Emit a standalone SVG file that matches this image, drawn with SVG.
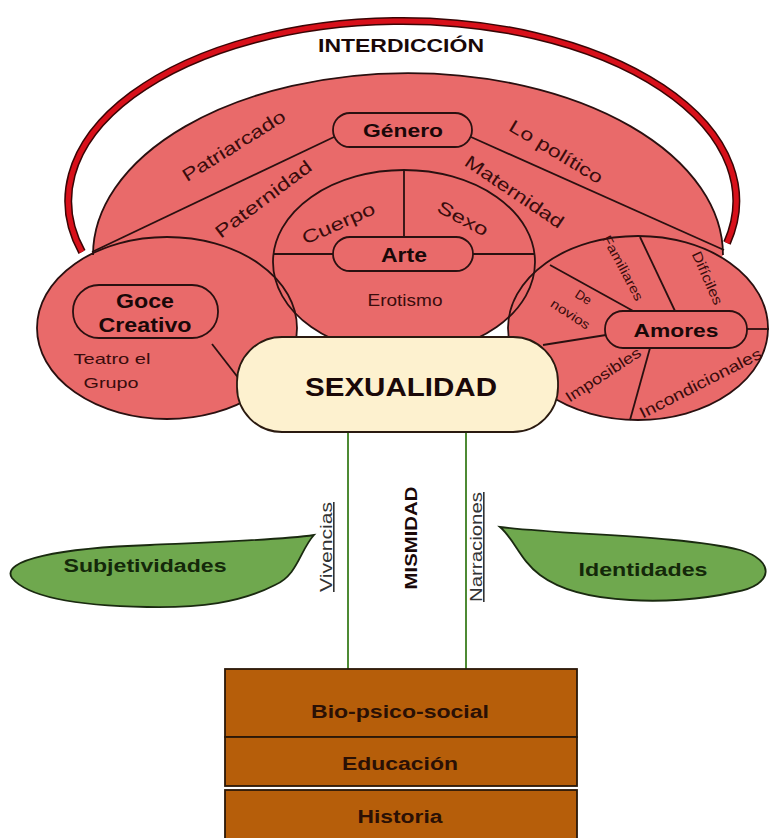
<svg xmlns="http://www.w3.org/2000/svg" width="769" height="838" viewBox="0 0 769 838">
<style>
.red{fill:#e96a6a}
.ol{fill:none;stroke:#2a1010;stroke-width:1.8}
.ln{stroke:#2a1010;stroke-width:1.8;fill:none}
.pill{fill:#e96a6a;stroke:#2a1010;stroke-width:1.8}
.b{font-family:"Liberation Sans",Arial,sans-serif;font-weight:bold;fill:#1a0808;text-anchor:middle}
.r{font-family:"Liberation Sans",Arial,sans-serif;fill:#3a0c0c;text-anchor:middle}
.g{stroke:#4e8a34;stroke-width:2}
.leaf{fill:#6fa84e;stroke:#1a2a10;stroke-width:1.8}
.brown{fill:#b65e0a;stroke:#2a1808;stroke-width:1.8}
.u{font-family:"Liberation Sans",Arial,sans-serif;fill:#333;text-anchor:middle;text-decoration:underline}
</style>
<rect width="769" height="838" fill="#fff"/>
<g id="interdiccion">
<path d="M 82 252 A 334 180 0 1 1 727 243" fill="none" stroke="#3a0505" stroke-width="8"/>
<path d="M 82 252 A 334 180 0 1 1 727 243" fill="none" stroke="#d8101a" stroke-width="5"/>
<text class="b" x="401" y="52" font-size="19" textLength="166" lengthAdjust="spacingAndGlyphs">INTERDICCIÓN</text>
</g>
<g id="genero-area">
<path class="red" d="M 93 255 A 315 182 0 0 1 723 255 L 700 300 L 120 300 Z"/>
</g>
<g id="connectors">
<line class="ln" x1="334" y1="137" x2="92" y2="252"/>
<line class="ln" x1="471" y1="137" x2="724" y2="250"/>
</g>
<g id="fills">
<ellipse class="red" cx="404" cy="262" rx="131" ry="92"/>
<ellipse class="red" cx="167" cy="328" rx="130" ry="91"/>
<ellipse class="red" cx="638" cy="328" rx="130" ry="92"/>
</g>
<g id="outlines">
<path class="ol" d="M 93 255 A 315 182 0 0 1 723 255"/>
<ellipse class="ol" cx="404" cy="262" rx="131" ry="92"/>
<ellipse class="ol" cx="167" cy="328" rx="130" ry="91"/>
<ellipse class="ol" cx="638" cy="328" rx="130" ry="92"/>
</g>
<g id="inner-lines">
<line class="ln" x1="404" y1="170" x2="404" y2="237"/>
<line class="ln" x1="273" y1="254" x2="333" y2="254"/>
<line class="ln" x1="473" y1="254" x2="535" y2="254"/>
<line class="ln" x1="212" y1="344" x2="243" y2="384"/>
<line class="ln" x1="747" y1="329" x2="769" y2="329"/>
<line class="ln" x1="675" y1="311" x2="640" y2="237"/>
<line class="ln" x1="635" y1="312" x2="550" y2="265"/>
<line class="ln" x1="606" y1="335" x2="543" y2="345"/>
<line class="ln" x1="650" y1="348" x2="630" y2="420"/>
</g>
<g id="genero">
<rect class="pill" x="333" y="113" width="139" height="34" rx="17"/>
<text class="b" x="403" y="137" font-size="19" textLength="80" lengthAdjust="spacingAndGlyphs">Género</text>
</g>
<g id="genero-labels">
<text class="r" font-size="18" transform="translate(237,151) rotate(-32)" textLength="118" lengthAdjust="spacingAndGlyphs">Patriarcado</text>
<text class="r" font-size="18" transform="translate(553,157) rotate(31)" textLength="106" lengthAdjust="spacingAndGlyphs">Lo político</text>
<text class="r" font-size="18" transform="translate(267,204) rotate(-37)" textLength="116" lengthAdjust="spacingAndGlyphs">Paternidad</text>
<text class="r" font-size="18" transform="translate(511,197) rotate(34)" textLength="115" lengthAdjust="spacingAndGlyphs">Maternidad</text>
</g>
<g id="arte">
<rect class="pill" x="333" y="237" width="140" height="34" rx="17"/>
<text class="b" x="404" y="262" font-size="20" textLength="46" lengthAdjust="spacingAndGlyphs">Arte</text>
<text class="r" font-size="18" transform="translate(341,229) rotate(-24)" textLength="78" lengthAdjust="spacingAndGlyphs">Cuerpo</text>
<text class="r" font-size="18" transform="translate(460,224) rotate(28)" textLength="55" lengthAdjust="spacingAndGlyphs">Sexo</text>
<text class="r" x="405" y="306" font-size="17" textLength="75" lengthAdjust="spacingAndGlyphs">Erotismo</text>
</g>
<g id="goce">
<rect class="pill" x="73" y="285" width="145" height="53" rx="26"/>
<text class="b" x="145" y="308" font-size="20" textLength="58" lengthAdjust="spacingAndGlyphs">Goce</text>
<text class="b" x="145" y="332" font-size="20" textLength="93" lengthAdjust="spacingAndGlyphs">Creativo</text>
<text class="r" x="112" y="364" font-size="15" textLength="77" lengthAdjust="spacingAndGlyphs">Teatro el</text>
<text class="r" x="111" y="388" font-size="15" textLength="55" lengthAdjust="spacingAndGlyphs">Grupo</text>
</g>
<g id="amores">
<rect class="pill" x="605" y="311" width="142" height="37" rx="18"/>
<text class="b" x="676" y="337" font-size="19" textLength="85" lengthAdjust="spacingAndGlyphs">Amores</text>
<text class="r" font-size="13" transform="translate(619,270) rotate(62)" textLength="72" lengthAdjust="spacingAndGlyphs">Familiares</text>
<text class="r" font-size="14" transform="translate(703,280) rotate(66)" textLength="57" lengthAdjust="spacingAndGlyphs">Difíciles</text>
<text class="r" font-size="13" transform="translate(581,301) rotate(33)">De</text>
<text class="r" font-size="13" transform="translate(568,318) rotate(33)" textLength="44" lengthAdjust="spacingAndGlyphs">novios</text>
<text class="r" font-size="15" transform="translate(606,379) rotate(-33)" textLength="87" lengthAdjust="spacingAndGlyphs">Imposibles</text>
<text class="r" font-size="16" transform="translate(703,388) rotate(-27)" textLength="135" lengthAdjust="spacingAndGlyphs">Incondicionales</text>
</g>
<g id="stems">
<line class="g" x1="348" y1="432" x2="348" y2="680"/>
<line class="g" x1="466" y1="432" x2="466" y2="680"/>
</g>
<g id="sexualidad">
<rect x="237" y="337" width="321" height="95" rx="45" fill="#fdf1cf" stroke="#2a1a10" stroke-width="1.8"/>
<text class="b" x="401" y="396" font-size="26" textLength="192" lengthAdjust="spacingAndGlyphs">SEXUALIDAD</text>
</g>
<g id="mismidad">
<text class="u" font-size="16" transform="translate(332,547) rotate(-90)" textLength="90" lengthAdjust="spacingAndGlyphs">Vivencias</text>
<text class="b" font-size="16" transform="translate(417,538) rotate(-90)" textLength="103" lengthAdjust="spacingAndGlyphs">MISMIDAD</text>
<text class="u" font-size="16" transform="translate(482,547) rotate(-90)" textLength="110" lengthAdjust="spacingAndGlyphs">Narraciones</text>
</g>
<g id="subjetividades">
<path class="leaf" d="M 314 535 C 300 550, 298 575, 275 585 C 240 603, 200 608, 147 607 C 90 606, 30 600, 12 578 C 0 560, 60 548, 150 545 C 220 542, 280 540, 314 535 Z"/>
<text class="b" x="145" y="572" font-size="18" textLength="163" lengthAdjust="spacingAndGlyphs" style="fill:#14280a">Subjetividades</text>
</g>
<g id="identidades">
<path class="leaf" d="M 500 527 C 560 535, 680 535, 740 550 C 775 560, 775 585, 735 592 C 700 600, 660 602, 630 600 C 590 598, 560 590, 540 575 C 520 560, 515 540, 500 527 Z"/>
<text class="b" x="643" y="576" font-size="18" textLength="129" lengthAdjust="spacingAndGlyphs" style="fill:#14280a">Identidades</text>
</g>
<g id="biopsicosocial">
<rect class="brown" x="225" y="669" width="352" height="68"/>
<text class="b" x="400" y="718" font-size="18" textLength="178" lengthAdjust="spacingAndGlyphs" style="fill:#2a1005">Bio-psico-social</text>
</g>
<g id="educacion">
<rect class="brown" x="225" y="737" width="352" height="49"/>
<text class="b" x="400" y="770" font-size="18" textLength="116" lengthAdjust="spacingAndGlyphs" style="fill:#2a1005">Educación</text>
</g>
<g id="historia">
<rect class="brown" x="225" y="790" width="352" height="60"/>
<text class="b" x="400" y="823" font-size="18" textLength="85" lengthAdjust="spacingAndGlyphs" style="fill:#2a1005">Historia</text>
</g>
</svg>
